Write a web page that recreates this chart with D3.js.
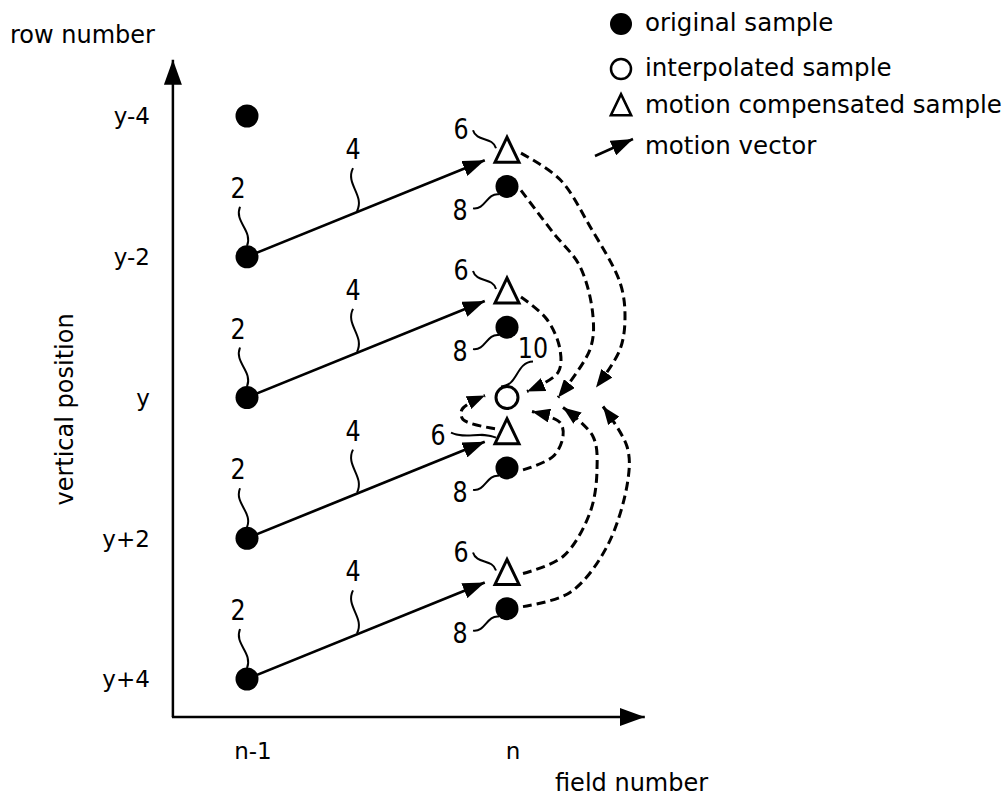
<!DOCTYPE html>
<html><head><meta charset="utf-8">
<script src="https://cdn.jsdelivr.net/npm/d3@7"></script>
<style>
body{margin:0;background:#fff}
text{font-family:"DejaVu Sans",sans-serif;fill:#000}
</style>
</head><body>
<svg id="c" width="1007" height="804"></svg>
<script>
// ---------- data ----------
const fields = ["n-1", "n"];                       // field index 0 and 1
const rowTicks = [-4, -2, 0, 2, 4];
const rowTickLabels = ["y-4", "y-2", "y", "y+2", "y+4"];
const prevOriginalRows = [-4, -2, 0, 2, 4];        // original samples, field n-1
const currOriginalRows = [-3, -1, 1, 3];           // original samples, field n
const mcRows = [-3.5, -1.5, 0.5, 2.5];             // motion compensated samples, field n
const vectorFromRows = [-2, 0, 2, 4];              // motion vectors: start row (field n-1)
const vectorToRows = [-3.5, -1.5, 0.5, 2.5];       // motion vectors: end row (field n)
const interpolatedRows = [0];                      // interpolated sample, field n
const contribSourceRows = [-3.5, -3, -1.5, 0.5, 1, 2.5, 3];
const contribSourceKinds = ["mc", "orig", "mc", "mc", "orig", "mc", "orig"];
const legendKinds = ["dot", "circle", "triangle", "vector"];
const legendLabels = ["original sample", "interpolated sample", "motion compensated sample", "motion vector"];
const refNumVector = "4", refNumPrev = "2", refNumMc = "6", refNumOrig = "8", refNumInterp = "10";
const axisTitleY = "row number", axisTitleYSide = "vertical position", axisTitleX = "field number";

// ---------- layout / style ----------
const svg = d3.select("#c");
const x = d3.scaleLinear().domain([0, 1]).range([247, 507]);
const y = d3.scaleLinear().domain([-4, 4]).range([116, 679]);
const xAxisExtent = [-0.285, 1.53];
const yAxisExtent = [4.54, -4.8];

const defs = svg.append("defs");
function marker(id, len, half) {
  defs.append("marker").attr("id", id).attr("viewBox", `0 ${-half} ${len} ${2*half}`)
    .attr("refX", len).attr("refY", 0).attr("markerWidth", len).attr("markerHeight", 2*half)
    .attr("markerUnits", "userSpaceOnUse").attr("orient", "auto")
    .append("path").attr("d", `M0,${-half}L${len},0L0,${half}Z`).attr("fill", "#000");
}
marker("axisHead", 25, 9);
marker("vecHead", 22, 8);
marker("dashHead", 18, 7);

// axes
const ox = x(xAxisExtent[0]), oy = y(yAxisExtent[0]);
svg.append("path").attr("d", d3.line()([[ox, oy], [ox, y(yAxisExtent[1])]]))
  .attr("stroke", "#000").attr("stroke-width", 2.5).attr("fill", "none").attr("marker-end", "url(#axisHead)");
svg.append("path").attr("d", d3.line()([[ox - 1, oy], [x(xAxisExtent[1]), oy]]))
  .attr("stroke", "#000").attr("stroke-width", 2.5).attr("fill", "none").attr("marker-end", "url(#axisHead)");

// tick labels
svg.selectAll(".ytick").data(rowTicks).join("text")
  .attr("x", ox - 23).attr("y", d => y(d)).attr("dy", "0.36em")
  .attr("text-anchor", "end").attr("font-size", 23).text((d, i) => rowTickLabels[i]);
svg.selectAll(".xtick").data(fields).join("text")
  .attr("x", (d, i) => x(i) + 6).attr("y", oy + 42)
  .attr("text-anchor", "middle").attr("font-size", 23).text(d => d);

// axis titles
svg.append("text").attr("x", 10).attr("y", 43).attr("font-size", 24).text(axisTitleY);
svg.append("text").attr("transform", `translate(73,${y(0.17)}) rotate(-90)`)
  .attr("text-anchor", "middle").attr("font-size", 24).text(axisTitleYSide);
svg.append("text").attr("x", 555).attr("y", 791).attr("font-size", 24).text(axisTitleX);

// helpers
function squiggle(p0, p1, amp = 0.28) {
  const dx = p1[0] - p0[0], dy = p1[1] - p0[1], L = Math.hypot(dx, dy);
  const nx = -dy / L, ny = dx / L, a = amp * L;
  return `M${p0[0]},${p0[1]}C${p0[0] + dx * 0.35 + nx * a},${p0[1] + dy * 0.35 + ny * a} ` +
         `${p0[0] + dx * 0.65 - nx * a},${p0[1] + dy * 0.65 - ny * a} ${p1[0]},${p1[1]}`;
}
function refLabel(txt, c, from, to, amp) {
  svg.append("path").attr("d", squiggle(from, to, amp)).attr("fill", "none")
    .attr("stroke", "#000").attr("stroke-width", 2);
  svg.append("text").attr("transform", `translate(${c[0]},${c[1]}) scale(0.85,1)`)
    .attr("dy", "0.36em").attr("text-anchor", "middle").attr("font-size", 28).text(txt);
}
const triPath = s => `M0,${-14*s}L${12*s},${11*s}L${-12*s},${11*s}Z`;

// motion vectors
const vecShort = 24;
vectorFromRows.forEach((r, i) => {
  const p0 = [x(0), y(r)], p1 = [x(1), y(vectorToRows[i])];
  const dx = p1[0] - p0[0], dy = p1[1] - p0[1], L = Math.hypot(dx, dy);
  const tip = [p1[0] - dx / L * vecShort, p1[1] - dy / L * vecShort];
  svg.append("path").attr("d", d3.line()([p0, tip])).attr("stroke", "#000")
    .attr("stroke-width", 2.7).attr("fill", "none").attr("marker-end", "url(#vecHead)");
  // label "4"
  const t = 110 / (p1[0] - p0[0]);
  const P = [p0[0] + dx * t, p0[1] + dy * t];
  refLabel(refNumVector, [P[0] - 4, P[1] - 63], [P[0] - 4, P[1] - 44], [P[0], P[1] - 1], 0.22);
  // label "2"
  refLabel(refNumPrev, [p0[0] - 9, p0[1] - 69], [p0[0] - 7, p0[1] - 50], [p0[0], p0[1] - 11], 0.22);
});

// dashed contribution arcs to the interpolated sample
const target = [x(1), y(interpolatedRows[0])];
const arcStart = [[14, 2], [14, 4], [14, 5], [-12, -4], [16, 2], [16, 0], [16, -2]];
const arcVia = [
  [[53, -218], [83, -171], [113, -115], [118, -81], [113, -48], [89, -10]],
  [[46, -165], [73, -131], [86, -81], [83, -48], [51, 0]],
  [[40, -78], [53, -48], [51, -25], [20, -6]],
  [[-44, 22], [-45, 12], [-22, -2]],
  [[46, 59], [56, 39], [53, 25], [25, 14]],
  [[56, 159], [83, 115], [90, 72], [86, 39], [56, 10]],
  [[63, 195], [100, 149], [121, 82], [120, 49], [96, 9]]
];
const arcLine = d3.line().curve(d3.curveCatmullRom.alpha(0.5));
contribSourceRows.forEach((r, i) => {
  const s = [x(1) + arcStart[i][0], y(r) + arcStart[i][1]];
  const pts = [s].concat(arcVia[i].map(v => [target[0] + v[0], target[1] + v[1]]));
  svg.append("path").attr("d", arcLine(pts)).attr("fill", "none").attr("stroke", "#000")
    .attr("stroke-width", 3).attr("stroke-dasharray", "9,5").attr("marker-end", "url(#dashHead)");
});

// samples
svg.selectAll(".prev").data(prevOriginalRows).join("circle")
  .attr("cx", x(0)).attr("cy", d => y(d)).attr("r", 11.5).attr("fill", "#000");
svg.selectAll(".curr").data(currOriginalRows).join("circle")
  .attr("cx", x(1)).attr("cy", d => y(d)).attr("r", 11.5).attr("fill", "#000");
svg.selectAll(".mc").data(mcRows).join("path")
  .attr("transform", d => `translate(${x(1)},${y(d)})`).attr("d", triPath(1))
  .attr("fill", "#fff").attr("stroke", "#000").attr("stroke-width", 3).attr("stroke-linejoin", "miter");
svg.selectAll(".interp").data(interpolatedRows).join("circle")
  .attr("cx", x(1)).attr("cy", d => y(d)).attr("r", 11).attr("fill", "#fff")
  .attr("stroke", "#000").attr("stroke-width", 3);

// labels 6, 8, 10
mcRows.forEach(r => {
  const cx = x(1), cy = y(r);
  if (r === 0.5) refLabel(refNumMc, [cx - 69, cy + 2], [cx - 56, cy], [cx - 11, cy + 5], 0.12);
  else refLabel(refNumMc, [cx - 46, cy - 22], [cx - 34, cy - 21], [cx - 11, cy - 3], 0.25);
});
currOriginalRows.forEach(r => {
  const cx = x(1), cy = y(r);
  refLabel(refNumOrig, [cx - 47, cy + 24], [cx - 34, cy + 22], [cx - 8, cy + 8], 0.25);
});
refLabel(refNumInterp, [target[0] + 26, target[1] - 50], [target[0] + 26, target[1] - 36], [target[0] - 6, target[1] - 11], 0.25);

// legend
const legY = [24, 69, 106, 147];
const lg = svg.selectAll(".leg").data(legendKinds).join("g")
  .attr("transform", (d, i) => `translate(621,${legY[i]})`);
lg.each(function (k) {
  const g = d3.select(this);
  if (k === "dot") g.append("circle").attr("r", 11).attr("fill", "#000");
  if (k === "circle") g.append("circle").attr("r", 10).attr("fill", "#fff").attr("stroke", "#000").attr("stroke-width", 2.5);
  if (k === "triangle") g.append("path").attr("d", triPath(0.85)).attr("fill", "#fff").attr("stroke", "#000").attr("stroke-width", 2.5);
  if (k === "vector") g.append("path").attr("d", d3.line()([[-26, 9], [12, -8]])).attr("stroke", "#000")
    .attr("stroke-width", 2.5).attr("marker-end", "url(#vecHead)");
});
lg.append("text").attr("x", 24).attr("dy", "0.3em").attr("font-size", 24.5).text((d, i) => legendLabels[i]);
</script>
</body></html>
